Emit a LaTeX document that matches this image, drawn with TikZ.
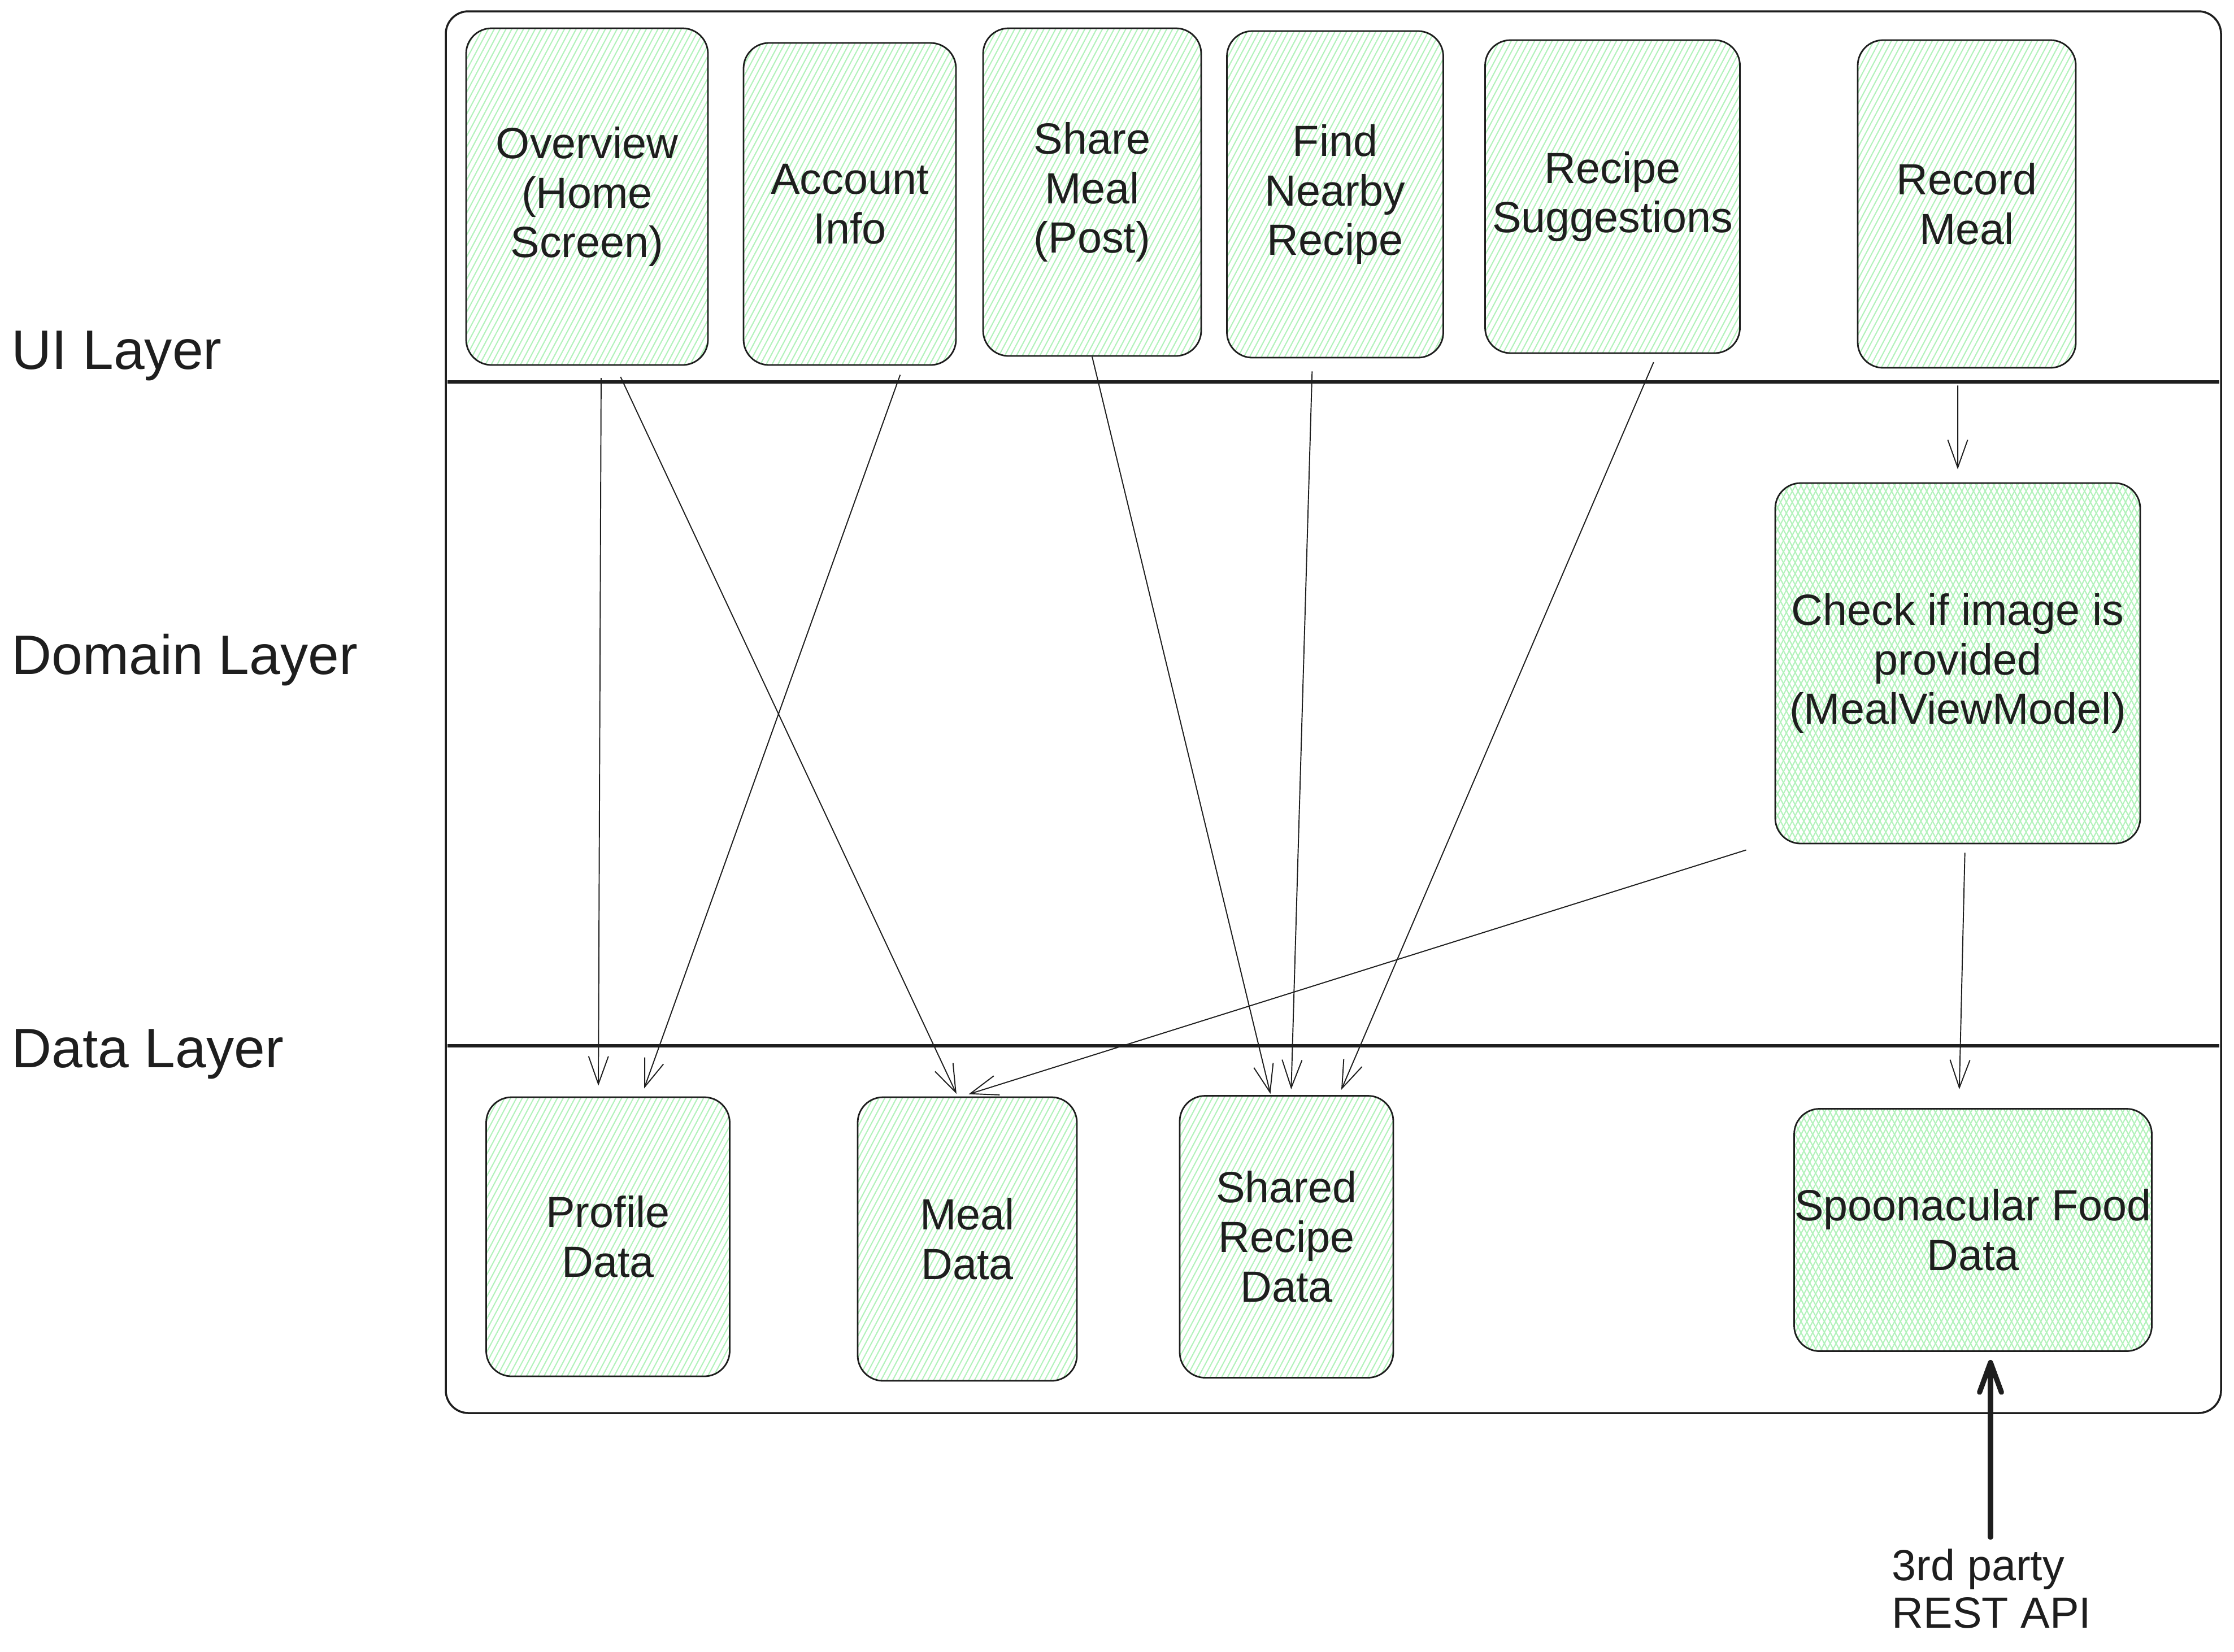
\documentclass[tikz,border=0pt]{standalone}
\usepackage{fontspec}
\setmainfont{Liberation Sans}
\usetikzlibrary{arrows.meta,patterns.meta,positioning}
\definecolor{mint}{HTML}{B2F2BB}
\definecolor{ink}{HTML}{1E1E1E}

\begin{document}
\begin{tikzpicture}[color=ink,
		card/.style={draw=ink,line width=0.8pt,rounded corners=0.45cm,align=center,inner sep=0pt,
			font=\fontsize{22}{25}\selectfont,
			pattern={Lines[angle=62,distance=2.6pt,line width=0.6pt]},pattern color=mint},
		crosscard/.style={card,preaction={pattern={Lines[angle=-62,distance=2.6pt,line width=0.6pt]},pattern color=mint}},
		link/.style={-{Straight Barb[length=14pt,width=10pt]},line width=0.55pt},
		layer/.style={anchor=west,inner sep=0pt,font=\fontsize{28}{34}\selectfont}]
		\useasboundingbox (0,0) rectangle (39.54,-29.23);
		\draw[line width=1pt,rounded corners=0.4cm] (7.89,-0.20) rectangle (39.31,-25.01);
		\draw[line width=1.8pt] (7.92,-6.76) -- (39.28,-6.76);
		\draw[line width=1.8pt] (7.92,-18.51) -- (39.28,-18.51);
		\foreach \lbl/\y in {UI Layer/-6.30, Domain Layer/-11.68, Data Layer/-18.66}{
			\node[layer] at (0.20,\y) {\lbl};
		}
		\foreach \name/\kind/\x/\y/\w/\h/\txt in {%
			ov/card/10.39/-3.48/4.28/5.96/{Overview\\(Home\\Screen)},%
			ac/card/15.04/-3.61/3.76/5.70/{Account\\Info},%
			sm/card/19.33/-3.40/3.86/5.80/{Share\\Meal\\(Post)},%
			fn/card/23.63/-3.44/3.83/5.78/{Find\\Nearby\\Recipe},%
			rs/card/28.54/-3.48/4.51/5.54/{Recipe\\Suggestions},%
			rm/card/34.81/-3.61/3.86/5.80/{Record\\Meal},%
			ck/crosscard/34.65/-11.74/6.46/6.38/{Check if image is\\provided\\(MealViewModel)},%
			pd/card/10.76/-21.89/4.31/4.94/{Profile\\Data},%
			md/card/17.12/-21.93/3.88/5.02/{Meal\\Data},%
			sr/card/22.77/-21.89/3.78/4.99/{Shared\\Recipe\\Data},%
			sp/crosscard/34.92/-21.77/6.33/4.29/{Spoonacular Food\\Data}%
			} {%
			\node[\kind,minimum width=\w cm,minimum height=\h cm] (\name) at (\x,\y) {\txt};
		}
		\foreach \a/\sa/\ga/\b/\sb/\gb in {%
			ov/0.25cm/0.22cm/pd/-0.17cm/0.19cm,%
			ov/0.50cm/0.22cm/md/-0.17cm/0.05cm,%
			ac/0.95cm/0.17cm/pd/0.59cm/0.15cm,%
			sm/0cm/0cm/sr/-0.28cm/0.02cm,%
			fn/-0.40cm/0.23cm/sr/0.08cm/0.10cm,%
			rs/0.79cm/0.16cm/sr/0.93cm/0.10cm,%
			rm/-0.16cm/0.30cm/ck/0cm/0.23cm,%
			ck/0.13cm/0.15cm/sp/-0.25cm/0.33cm%
			} {%
			\draw[link,shorten <=\ga,shorten >=\gb] ([xshift=\sa]\a.south) -- ([xshift=\sb]\b.north);
		}
		\draw[link,shorten >=0.13cm] ([shift={(-0.5cm,-0.1cm)}]ck.south west) -- ([xshift=-0.10cm]md.north);
		\node[align=left,inner sep=0pt,font=\fontsize{22}{24}\selectfont] (api) at (35.25,-28.12) {3rd party\\REST API};
		\draw[-{Straight Barb[length=15pt,width=11pt,round]},line width=2.6pt,line cap=round,shorten <=0.2cm,shorten >=0.14cm]
			([xshift=-0.02cm]api.north) -- ([xshift=0.31cm]sp.south);
	\end{tikzpicture}
\end{document}
